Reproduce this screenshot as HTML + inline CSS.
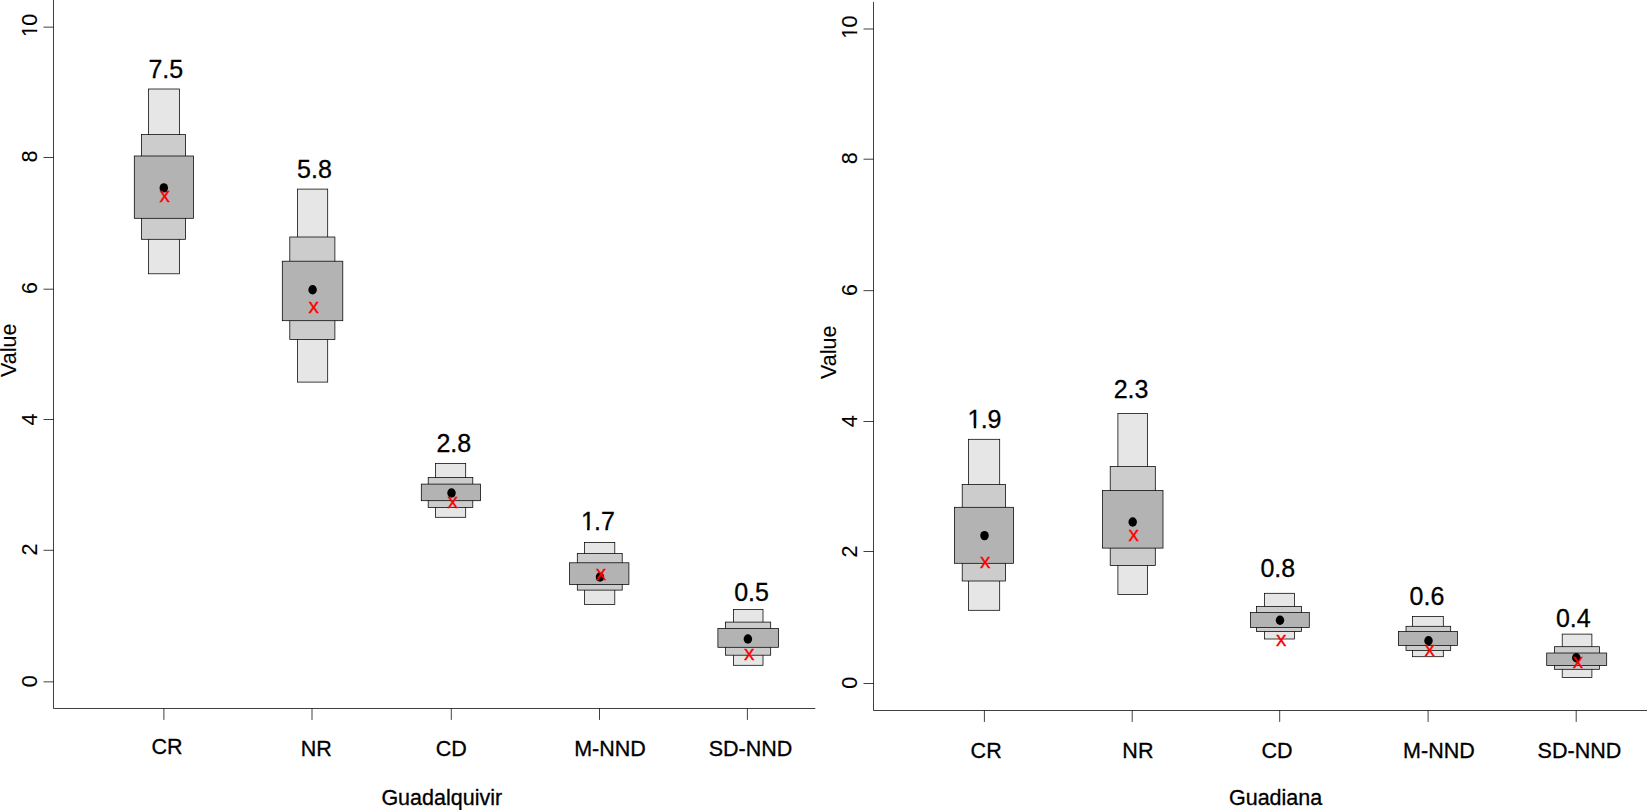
<!DOCTYPE html>
<html><head><meta charset="utf-8"><title>Guadalquivir / Guadiana</title>
<style>
html,body{margin:0;padding:0;background:#fff;}
svg{display:block;}
text{font-family:"Liberation Sans",Arial,Helvetica,sans-serif;fill:#000;stroke:#000;stroke-width:0.3px;}
.ax{font-size:21.5px;}
.val{font-size:25.0px;}
.rx{font-size:20.8px;fill:#f00;stroke:#f00;}
.rot{stroke-width:0.1px;}
.ln{stroke:#000;stroke-width:0.75;fill:none;}
.b{stroke:#000;stroke-width:0.75;}
</style></head>
<body>
<svg width="1647" height="810" viewBox="0 0 1647 810">
<rect x="0" y="0" width="1647" height="810" fill="#fff"/>
<defs>
<clipPath id="c1v" clipPathUnits="userSpaceOnUse"><path clip-rule="evenodd" d="M-5 -30 H100 V8 H-5 Z M1.22 -2.37 H7.02 V2 H1.22 Z M9.39 -2.37 H14.7 V2 H9.39 Z"/></clipPath>
<clipPath id="c1a" clipPathUnits="userSpaceOnUse"><path clip-rule="evenodd" d="M-5 -25.8 H86 V8 H-5 Z M0.84 -2.11 H6.03 V2 H0.84 Z M8.09 -2.11 H12.81 V2 H8.09 Z"/></clipPath>
</defs>
<g>
<rect class="b" x="148.4" y="89" width="31.2" height="184.8" fill="#e6e6e6"/>
<rect class="b" x="141.4" y="134.6" width="44.2" height="104.7" fill="#cccccc"/>
<rect class="b" x="134.3" y="156" width="59.2" height="62.3" fill="#b3b3b3"/>
<ellipse cx="163.8" cy="187.9" rx="4.25" ry="4.7" fill="#000"/>
<text id="rx0" class="rx" text-anchor="middle" transform="translate(164.8 201.7)">x</text>
<text id="v0" class="val" text-anchor="middle" transform="translate(165.75 77.7)">7.5</text>
</g>
<g>
<rect class="b" x="297.5" y="189.1" width="30.2" height="193" fill="#e6e6e6"/>
<rect class="b" x="289.8" y="237" width="45.1" height="102.5" fill="#cccccc"/>
<rect class="b" x="282.3" y="261.2" width="60.5" height="59.5" fill="#b3b3b3"/>
<ellipse cx="312.6" cy="289.7" rx="4.25" ry="4.7" fill="#000"/>
<text id="rx1" class="rx" text-anchor="middle" transform="translate(313.7 313.3)">x</text>
<text id="v1" class="val" text-anchor="middle" transform="translate(314.45 177.8)">5.8</text>
</g>
<g>
<rect class="b" x="435.5" y="463.6" width="30.2" height="53.7" fill="#e6e6e6"/>
<rect class="b" x="428.2" y="477.5" width="44.6" height="29.9" fill="#cccccc"/>
<rect class="b" x="421.3" y="484.1" width="59.2" height="16.6" fill="#b3b3b3"/>
<ellipse cx="451.5" cy="493" rx="4.25" ry="4.7" fill="#000"/>
<text id="rx2" class="rx" text-anchor="middle" transform="translate(452.7 507.7)">x</text>
<text id="v2" class="val" text-anchor="middle" transform="translate(453.75 451.6)">2.8</text>
</g>
<g>
<rect class="b" x="584.4" y="542.5" width="30.4" height="62.1" fill="#e6e6e6"/>
<rect class="b" x="577.3" y="553.6" width="44.9" height="36.5" fill="#cccccc"/>
<rect class="b" x="569.6" y="562.8" width="59.3" height="21.6" fill="#b3b3b3"/>
<ellipse cx="600" cy="577" rx="4.25" ry="4.7" fill="#000"/>
<text id="rx3" class="rx" text-anchor="middle" transform="translate(601 580.4)">x</text>
<text id="v3" class="val" text-anchor="start" transform="translate(597.5 530.1) translate(-17.38 0)" dx="0.82 -0.82" clip-path="url(#c1v)">1.7</text>
</g>
<g>
<rect class="b" x="733.4" y="609.6" width="29.6" height="55.7" fill="#e6e6e6"/>
<rect class="b" x="725.6" y="622.1" width="45.1" height="33.1" fill="#cccccc"/>
<rect class="b" x="717.9" y="628.5" width="60.7" height="18.8" fill="#b3b3b3"/>
<ellipse cx="747.9" cy="639" rx="4.25" ry="4.7" fill="#000"/>
<text id="rx4" class="rx" text-anchor="middle" transform="translate(749.3 659.9)">x</text>
<text id="v4" class="val" text-anchor="middle" transform="translate(751.5 601.1)">0.5</text>
</g>
<g>
<rect class="b" x="968.4" y="439.3" width="31.3" height="171" fill="#e6e6e6"/>
<rect class="b" x="962.2" y="484.4" width="43.3" height="96.6" fill="#cccccc"/>
<rect class="b" x="954.5" y="507.3" width="59.1" height="56" fill="#b3b3b3"/>
<ellipse cx="984.5" cy="535.6" rx="4.25" ry="4.7" fill="#000"/>
<text id="rx5" class="rx" text-anchor="middle" transform="translate(985.3 567.9)">x</text>
<text id="v5" class="val" text-anchor="start" transform="translate(984.15 428.1) translate(-17.38 0)" dx="0.82 -0.82" clip-path="url(#c1v)">1.9</text>
</g>
<g>
<rect class="b" x="1117.9" y="413.6" width="29.7" height="181" fill="#e6e6e6"/>
<rect class="b" x="1110.2" y="466.6" width="45.1" height="99" fill="#cccccc"/>
<rect class="b" x="1102.5" y="490.6" width="60.5" height="57.5" fill="#b3b3b3"/>
<ellipse cx="1132.7" cy="522" rx="4.25" ry="4.7" fill="#000"/>
<text id="rx6" class="rx" text-anchor="middle" transform="translate(1133.6 541.3)">x</text>
<text id="v6" class="val" text-anchor="middle" transform="translate(1131 397.6)">2.3</text>
</g>
<g>
<rect class="b" x="1264.4" y="593.3" width="30" height="45.7" fill="#e6e6e6"/>
<rect class="b" x="1256.6" y="606.4" width="44.9" height="25" fill="#cccccc"/>
<rect class="b" x="1250.4" y="612.6" width="58.9" height="14.8" fill="#b3b3b3"/>
<ellipse cx="1280" cy="620.3" rx="4.25" ry="4.7" fill="#000"/>
<text id="rx7" class="rx" text-anchor="middle" transform="translate(1281.1 645.5)">x</text>
<text id="v7" class="val" text-anchor="middle" transform="translate(1277.8 577)">0.8</text>
</g>
<g>
<rect class="b" x="1412.5" y="616.4" width="30.8" height="40.3" fill="#e6e6e6"/>
<rect class="b" x="1406" y="626.3" width="44.7" height="24.1" fill="#cccccc"/>
<rect class="b" x="1398.4" y="631.5" width="59" height="14.1" fill="#b3b3b3"/>
<ellipse cx="1428.5" cy="640.8" rx="4.25" ry="4.7" fill="#000"/>
<text id="rx8" class="rx" text-anchor="middle" transform="translate(1429.6 656.4)">x</text>
<text id="v8" class="val" text-anchor="middle" transform="translate(1426.95 604.5)">0.6</text>
</g>
<g>
<rect class="b" x="1562.2" y="634.1" width="29.7" height="43.4" fill="#e6e6e6"/>
<rect class="b" x="1554.4" y="646.7" width="45.2" height="22.6" fill="#cccccc"/>
<rect class="b" x="1546.7" y="653" width="60" height="12.6" fill="#b3b3b3"/>
<ellipse cx="1576.3" cy="657.8" rx="4.25" ry="4.7" fill="#000"/>
<text id="rx9" class="rx" text-anchor="middle" transform="translate(1577.9 667.9)">x</text>
<text id="v9" class="val" text-anchor="middle" transform="translate(1573.3 627.1)">0.4</text>
</g>
<g>
<path class="ln" d="M53.5 0 V708.5 H815.3"/>
<path class="ln" d="M43.5 681.85 H53.5"/>
<text id="yl0_0" class="ax rot" text-anchor="middle" transform="translate(36.6 681.2) rotate(-90)">0</text>
<path class="ln" d="M43.5 550.3 H53.5"/>
<text id="yl0_2" class="ax rot" text-anchor="middle" transform="translate(36.6 549.5) rotate(-90)">2</text>
<path class="ln" d="M43.5 419.5 H53.5"/>
<text id="yl0_4" class="ax rot" text-anchor="middle" transform="translate(36.6 419.4) rotate(-90)">4</text>
<path class="ln" d="M43.5 289.2 H53.5"/>
<text id="yl0_6" class="ax rot" text-anchor="middle" transform="translate(36.6 288.05) rotate(-90)">6</text>
<path class="ln" d="M43.5 157.5 H53.5"/>
<text id="yl0_8" class="ax rot" text-anchor="middle" transform="translate(36.6 156.4) rotate(-90)">8</text>
<path class="ln" d="M43.5 27.15 H53.5"/>
<text id="yl0_10" class="ax rot" text-anchor="start" transform="translate(36.6 25.8) rotate(-90) translate(-11.96 0)" dx="0.7 -0.7" clip-path="url(#c1a)">10</text>
<path class="ln" d="M163.9 708.5 V719.9"/>
<path class="ln" d="M312 708.5 V719.9"/>
<path class="ln" d="M451.3 708.5 V719.9"/>
<path class="ln" d="M599.5 708.5 V719.9"/>
<path class="ln" d="M747.4 708.5 V719.9"/>
<text id="val0" class="ax rot" text-anchor="middle" transform="translate(16 350.3) rotate(-90)">Value</text>
</g>
<g>
<path class="ln" d="M873.5 2 V710.5 H1647"/>
<path class="ln" d="M863.5 683.5 H873.5"/>
<text id="yl1_0" class="ax rot" text-anchor="middle" transform="translate(856.55 682.8) rotate(-90)">0</text>
<path class="ln" d="M863.5 551.5 H873.5"/>
<text id="yl1_2" class="ax rot" text-anchor="middle" transform="translate(856.55 551.4) rotate(-90)">2</text>
<path class="ln" d="M863.5 421.5 H873.5"/>
<text id="yl1_4" class="ax rot" text-anchor="middle" transform="translate(856.55 421.3) rotate(-90)">4</text>
<path class="ln" d="M863.5 290.65 H873.5"/>
<text id="yl1_6" class="ax rot" text-anchor="middle" transform="translate(856.55 290) rotate(-90)">6</text>
<path class="ln" d="M863.5 159.2 H873.5"/>
<text id="yl1_8" class="ax rot" text-anchor="middle" transform="translate(856.55 158.2) rotate(-90)">8</text>
<path class="ln" d="M863.5 29 H873.5"/>
<text id="yl1_10" class="ax rot" text-anchor="start" transform="translate(856.55 27.6) rotate(-90) translate(-11.96 0)" dx="0.7 -0.7" clip-path="url(#c1a)">10</text>
<path class="ln" d="M984.4 710.5 V721.9"/>
<path class="ln" d="M1132.2 710.5 V721.9"/>
<path class="ln" d="M1279.7 710.5 V721.9"/>
<path class="ln" d="M1428.1 710.5 V721.9"/>
<path class="ln" d="M1576.2 710.5 V721.9"/>
<text id="val1" class="ax rot" text-anchor="middle" transform="translate(836.2 352.2) rotate(-90)">Value</text>
</g>
<text id="xl0" class="ax" text-anchor="middle" transform="translate(167.1 754)">CR</text>
<text id="xl1" class="ax" text-anchor="middle" transform="translate(316.3 756)">NR</text>
<text id="xl2" class="ax" text-anchor="middle" transform="translate(451.3 755.6)">CD</text>
<text id="xl3" class="ax" text-anchor="middle" transform="translate(610 755.6)">M-NND</text>
<text id="xl4" class="ax" text-anchor="middle" transform="translate(750.55 755.6)">SD-NND</text>
<text id="xl5" class="ax" text-anchor="middle" transform="translate(441.75 804.6)">Guadalquivir</text>
<text id="xl6" class="ax" text-anchor="middle" transform="translate(986.15 757.9)">CR</text>
<text id="xl7" class="ax" text-anchor="middle" transform="translate(1137.9 758.2)">NR</text>
<text id="xl8" class="ax" text-anchor="middle" transform="translate(1277.05 758)">CD</text>
<text id="xl9" class="ax" text-anchor="middle" transform="translate(1438.9 758)">M-NND</text>
<text id="xl10" class="ax" text-anchor="middle" transform="translate(1579.4 758)">SD-NND</text>
<text id="xl11" class="ax" text-anchor="middle" transform="translate(1275.6 804.6)">Guadiana</text>
</svg>
</body></html>
